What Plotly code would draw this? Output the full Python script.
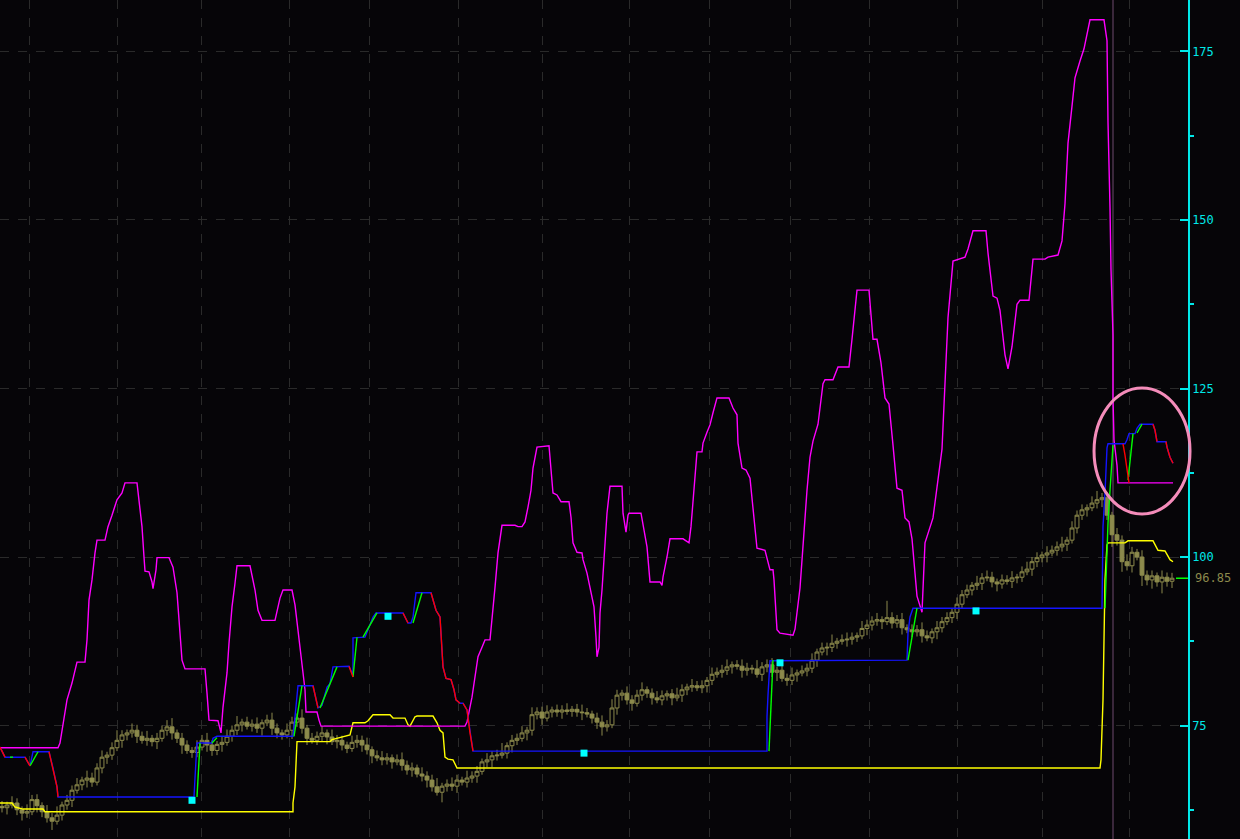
import plotly.graph_objects as go

# ---------------- data ----------------
first_open = 63.0
close = [62.8,63.2,63.5,62.5,62.0,62.2,64.0,63.1,62.2,61.3,
 60.8,61.7,63.2,63.9,65.4,66.2,66.9,67.2,66.6,68.7,
 70.3,70.6,71.7,72.8,73.6,73.9,74.3,73.4,72.8,73.1,
 72.6,73.1,74.3,74.8,73.9,73.1,72.1,71.3,71.0,71.8,
 72.8,72.1,71.3,72.2,72.5,73.4,74.3,75.1,75.5,74.9,
 75.2,74.6,75.4,75.8,74.6,73.9,73.6,74.3,75.5,76.1,
 74.6,73.1,72.8,73.4,73.9,73.3,72.6,72.8,72.1,71.6,
 72.5,72.8,72.1,71.4,70.5,70.2,69.9,70.2,69.6,69.9,
 69.1,68.4,68.7,67.8,67.5,66.9,65.9,65.1,66.0,66.3,
 66.0,66.9,66.6,67.2,67.5,68.2,69.6,69.9,70.5,70.6,
 70.9,72.0,72.8,73.1,73.9,74.3,76.6,77.0,76.1,77.0,
 77.3,77.0,77.3,77.1,77.4,77.0,76.9,76.7,76.1,75.5,
 74.8,75.1,77.6,79.5,79.8,78.8,78.3,79.5,80.3,79.8,
 79.1,78.8,79.4,79.7,79.1,79.5,80.3,80.7,80.9,80.6,
 80.9,81.7,82.6,82.9,83.2,83.7,84.0,83.8,83.2,83.5,
 83.4,82.6,83.7,84.0,82.9,83.2,82.0,81.7,82.5,82.8,
 83.1,83.5,84.7,85.9,86.5,86.6,87.2,87.5,87.7,87.8,
 88.1,88.3,89.4,89.9,90.5,90.7,90.4,91.0,90.2,90.7,
 89.5,89.2,88.9,89.2,88.3,88.0,88.9,89.5,90.4,91.0,
 91.8,93.0,94.4,95.1,95.8,96.1,96.9,97.0,96.3,96.0,
 96.6,96.4,96.9,97.0,97.8,98.2,99.3,99.9,100.3,100.6,
 101.0,101.5,101.9,102.5,104.3,106.2,107.0,107.3,108.0,108.5,
 108.8,106.2,103.3,102.5,99.3,98.7,100.7,100.0,97.3,96.6,
 97.2,96.3,97.0,96.4,96.85]

wick_up = [0.8,0.5,1.0,0.7,0.5,1.1,0.7,0.8,0.5,1.0,
 0.7,1.3,0.5,0.8,0.7,1.0,0.5,1.1,0.8,0.7,
 1.0,0.5,0.8,1.5,0.7,0.5,1.0,0.8,0.7,1.1,
 0.5,0.8,0.7,1.0,1.3,0.5,0.8,0.7,0.5,1.0,
 0.8,1.1,0.7,0.5,0.8,1.0,0.7,1.3,0.5,0.8,
 0.7,1.0,0.5,0.8,1.1,0.7,0.5,1.0,0.8,0.7,
 1.3,0.5,0.8,0.7,1.0,0.5,1.1,0.8,0.7,0.5,
 1.0,0.8,0.7,1.1,0.5,0.8,1.0,0.7,0.5,0.8,
 1.1,0.7,0.8,0.5,1.0,0.7,0.8,1.3,0.5,0.7,
 1.0,0.8,0.5,1.1,0.7,0.8,0.5,1.0,0.7,0.8,
 1.5,0.5,0.8,0.7,1.0,0.5,1.1,0.7,0.8,1.0,
 0.5,0.8,0.7,1.0,0.5,0.8,1.1,0.7,0.5,0.8,
 1.0,0.7,1.3,0.8,0.5,1.0,0.7,0.8,1.1,0.5,
 0.7,1.0,0.8,0.5,0.7,1.1,0.8,0.5,1.0,0.7,
 0.8,0.5,1.0,0.7,0.8,1.1,0.5,0.7,1.0,0.8,
 0.5,1.3,0.7,0.8,1.0,0.5,0.8,0.7,1.1,0.5,
 0.8,0.7,1.0,0.5,0.8,0.7,1.3,0.5,0.8,1.0,
 0.7,0.5,1.1,0.8,0.7,1.0,0.5,2.5,0.8,0.7,
 1.0,0.5,0.8,0.7,1.1,0.8,0.5,1.0,0.7,0.8,
 0.5,1.0,0.7,0.8,0.5,1.1,0.7,1.0,0.8,0.5,
 0.8,0.7,1.0,0.5,0.8,1.1,0.7,0.8,0.5,1.0,
 0.7,0.8,1.1,0.5,1.0,0.7,0.8,0.5,1.0,1.3,
 0.7,0.8,0.5,1.0,0.7,1.1,0.8,0.5,1.0,0.7,
 0.8,0.5,1.0,0.7,0.8]

wick_dn = [0.7,1.0,0.5,0.8,1.1,0.7,0.5,1.0,0.8,0.7,
 1.3,0.5,0.8,0.7,1.0,0.5,0.8,1.1,0.7,0.5,
 0.8,1.0,0.7,0.5,1.1,0.8,0.7,1.0,0.5,0.8,
 0.7,1.1,0.5,0.8,1.0,0.7,1.3,0.5,0.8,0.7,
 0.5,1.0,0.8,0.7,1.1,0.5,0.8,0.7,1.0,0.5,
 0.8,0.7,1.1,0.5,1.0,0.8,0.7,0.5,1.3,0.7,
 0.8,1.0,0.5,0.7,0.8,1.1,0.5,1.0,0.8,0.7,
 0.5,0.8,1.0,0.7,1.1,0.5,0.8,0.7,1.0,0.5,
 0.8,0.7,1.0,0.5,0.8,1.1,0.7,0.5,1.5,0.8,
 0.7,1.0,0.5,0.8,0.7,1.0,0.5,0.8,1.1,0.7,
 0.5,0.8,1.0,0.7,0.5,1.1,0.8,0.7,1.0,0.5,
 0.8,0.7,1.0,0.5,0.8,0.7,1.1,0.5,0.8,1.0,
 1.3,0.7,0.5,1.0,0.8,0.7,1.1,0.5,0.8,0.7,
 1.0,0.5,0.8,0.7,1.1,0.5,1.0,0.8,0.7,0.5,
 0.8,1.0,0.7,0.5,0.8,0.7,1.0,0.5,1.1,0.8,
 0.7,0.5,1.0,0.8,0.7,1.3,0.5,0.8,0.7,1.0,
 0.5,0.8,0.7,1.0,0.5,1.1,0.7,0.8,0.5,1.0,
 0.8,0.7,0.5,1.0,0.8,0.7,1.1,0.5,0.8,0.7,
 1.0,0.5,0.8,0.7,1.0,0.5,0.8,1.1,0.7,0.5,
 0.8,1.0,0.7,0.5,0.8,0.7,1.0,0.5,0.8,1.1,
 0.7,0.5,1.0,0.8,0.7,0.5,1.0,0.8,0.7,1.1,
 0.5,0.8,0.7,1.0,0.5,0.8,0.7,1.0,0.5,0.8,
 1.1,0.7,1.8,0.8,1.5,0.7,1.0,0.5,1.6,0.8,
 1.3,0.7,1.7,0.8,1.0]

magenta_x = [-0.4,11.2,11.6,12.2,13.0,14.0,14.6,15.0,16.6,17.0,17.4,18.0,18.6,19.0,20.6,21.2,22.0,22.6,23.0,24.0,
 24.6,27.0,27.4,28.0,28.4,28.6,29.4,30.0,30.2,30.8,31.0,33.4,34.2,35.0,35.6,36.0,36.6,40.6,41.0,41.4,
 43.2,43.6,43.8,44.2,45.0,45.4,46.0,46.6,47.0,49.6,50.6,51.2,52.0,54.6,55.6,56.2,58.0,58.6,59.2,60.0,
 60.6,60.8,63.0,63.4,63.8,92.6,93.0,94.0,94.6,95.2,96.0,96.6,97.6,98.0,98.6,99.2,100.0,102.6,103.2,104.0,
 104.6,105.2,105.8,106.2,107.0,109.4,109.8,110.2,111.0,111.8,113.4,113.8,114.2,115.0,116.0,116.2,117.0,117.6,118.4,118.8,
 119.0,119.4,119.6,120.0,120.6,121.0,121.6,124.0,124.2,124.8,125.2,125.4,127.8,128.2,129.0,129.6,131.6,132.0,132.2,133.0,
 133.6,136.2,137.4,137.8,138.2,138.6,139.0,140.0,140.2,141.0,141.6,142.2,143.0,145.4,146.2,147.0,147.2,148.0,148.8,149.6,
 150.2,151.0,152.6,153.2,153.6,154.2,154.4,155.0,155.6,158.2,158.6,159.6,160.2,161.0,161.6,162.2,163.2,164.2,164.6,166.2,
 167.2,169.4,170.0,171.0,173.4,174.2,175.0,175.8,176.6,177.4,178.2,179.0,180.0,180.6,181.4,182.0,183.0,184.0,184.6,186.2,
 188.0,188.6,189.2,190.2,192.6,193.2,194.2,196.8,197.2,198.2,199.0,199.6,200.6,201.2,202.0,203.0,203.6,205.4,206.2,208.6,
 209.2,211.2,212.0,212.6,213.2,214.0,214.6,215.6,216.4,217.6,220.4,221.0,221.2,221.6,221.8,222.2,222.2,222.4,223.0,223.2,
 234.2]
magenta_y = [71.7,71.7,72.4,75.4,78.8,81.3,83.2,84.4,84.4,87.7,93.6,96.6,100.6,102.5,102.5,104.5,106.2,107.4,108.5,109.5,
 111.0,111.0,108.5,104.5,100.0,97.9,97.8,96.3,95.3,98.1,99.9,99.9,98.5,94.7,88.7,84.7,83.4,83.4,79.8,75.8,
 75.7,74.3,73.9,77.7,82.8,87.2,92.6,96.1,98.7,98.7,95.1,92.1,90.6,90.6,93.9,95.1,95.1,92.9,89.2,84.3,
 80.3,77.0,77.0,75.8,74.9,74.9,75.5,79.2,82.0,85.2,86.6,87.7,87.7,90.6,95.5,100.6,104.7,104.7,104.5,104.5,
 105.2,107.4,109.9,113.2,116.3,116.5,113.4,109.5,109.2,108.2,108.2,105.9,102.1,100.7,100.6,99.6,97.6,95.5,92.6,88.1,
 85.2,86.6,91.7,95.1,101.5,106.5,110.5,110.5,106.5,103.7,106.2,106.5,106.5,105.0,101.5,96.3,96.3,95.8,97.0,100.0,
 102.7,102.7,102.1,104.5,108.5,111.4,115.6,115.6,116.9,118.5,119.6,121.4,123.6,123.6,122.1,121.1,116.9,113.2,112.9,111.7,
 107.0,101.3,101.0,99.3,98.1,98.1,96.6,89.2,88.7,88.4,89.3,95.4,102.1,109.9,114.8,117.2,119.7,125.7,126.3,126.3,
 128.2,128.2,132.3,139.6,139.6,132.3,132.3,128.8,123.6,122.7,116.6,110.2,109.9,105.8,105.2,102.7,94.2,91.8,102.1,105.8,
 116.0,125.1,135.5,143.9,144.5,145.7,148.4,148.4,145.1,138.7,138.4,136.6,130.0,127.9,131.2,137.5,138.1,138.1,144.2,144.2,
 144.5,144.8,146.9,152.4,161.4,166.9,171.1,173.6,175.4,179.7,179.7,176.6,164.5,151.8,142.7,132.9,123.6,117.4,113.6,111.0,
 111.0]

yellow_x = [-0.4,2.0,2.6,3.2,4.2,8.2,8.6,58.2,58.2,58.6,58.8,59.0,59.0,65.6,66.0,69.6,70.0,70.2,72.6,73.2,
 74.2,77.6,78.2,80.6,81.2,81.6,82.6,83.0,86.2,87.0,87.6,88.2,88.6,89.2,90.2,91.0,219.6,219.8,220.2,220.4,
 220.6,221.0,221.2,224.6,225.2,230.2,231.2,232.6,233.6,234.2]
yellow_y = [63.5,63.5,62.9,62.8,62.6,62.6,62.2,62.2,63.5,65.9,68.8,71.4,72.6,72.6,72.9,73.6,74.8,75.4,75.4,75.7,
 76.6,76.6,76.1,76.1,75.1,74.9,76.3,76.4,76.4,75.4,74.3,73.9,70.3,70.0,69.9,68.7,68.7,69.9,78.8,87.7,
 96.6,101.8,102.1,102.1,102.4,102.4,101.0,100.9,99.6,99.3]

blue_x = [-0.4,0.6,4.6,5.6,6.2,9.4,10.2,11.0,11.2,38.4,38.6,39.0,42.0,42.2,43.0,58.2,58.6,59.0,59.2,62.2,
 63.2,64.0,65.0,65.6,66.2,69.4,70.2,70.2,72.6,73.2,74.2,74.8,80.2,81.2,81.8,82.2,82.6,82.8,85.8,86.8,
 87.6,87.8,88.2,88.8,89.8,90.4,90.8,91.6,92.2,93.0,93.6,94.2,153.0,153.0,153.2,153.4,153.6,181.0,181.2,181.6,
 182.2,220.0,220.2,220.6,221.0,221.2,224.6,225.0,225.4,226.6,227.0,227.6,230.2,230.6,231.0,232.8,233.0,233.6,234.2]
blue_y = [71.8,70.3,70.3,69.0,71.1,71.1,68.7,65.9,64.4,64.4,67.2,72.4,72.4,73.1,73.4,73.4,76.3,80.0,80.9,80.9,
 77.6,78.0,80.7,81.2,83.7,83.8,82.5,88.0,88.1,89.2,91.1,91.7,91.7,90.2,90.2,91.1,93.6,94.7,94.7,92.1,
 91.1,88.0,83.7,82.0,81.8,80.3,78.8,78.3,78.3,77.3,73.9,71.2,71.2,76.3,79.5,82.9,84.6,84.7,88.7,91.1,
 92.4,92.4,104.5,109.5,116.2,116.8,116.8,117.4,118.3,118.3,119.1,119.7,119.7,118.8,117.1,117.1,116.3,114.8,113.9]

green_x = [1.6,2.2,None,5.6,7.2,None,39.0,39.6,None,42.0,43.0,None,58.4,60.0,None,63.6,67.0,None,70.2,71.0,None,
 72.2,75.0,None,82.2,84.0,None,153.4,154.2,None,181.2,183.0,None,220.6,221.2,221.6,222.2,None,225.2,226.2,None,227.0,228.0]
green_y = [70.3,70.3,None,69.0,71.1,None,64.4,72.4,None,72.4,73.2,None,73.4,80.9,None,77.6,83.7,None,82.2,88.1,None,
 88.1,91.7,None,90.2,94.7,None,71.2,84.7,None,84.7,92.4,None,92.4,105.0,109.9,116.6,None,111.4,118.3,None,118.4,119.7]

red_x = [-0.4,0.6,None,4.6,5.6,None,9.4,10.2,11.0,11.2,None,62.2,63.2,None,69.4,70.2,None,80.2,81.2,None,
 85.8,86.8,87.6,87.8,88.2,88.8,89.8,90.4,90.8,91.6,None,92.2,93.0,93.6,94.2,None,224.2,224.6,225.4,None,
 230.2,230.6,231.0,None,232.8,233.0,233.6,234.2]
red_y = [71.8,70.3,None,70.3,69.0,None,71.1,68.7,65.9,64.4,None,80.9,77.6,None,83.8,82.2,None,91.7,90.2,None,
 94.7,92.1,91.1,88.0,83.7,82.0,81.8,80.3,78.8,78.3,None,78.3,77.3,73.9,71.2,None,116.8,115.1,111.0,None,
 119.7,118.8,117.1,None,117.1,116.3,114.8,113.9]

signal_x = [38.0, 77.2, 116.4, 155.6, 194.8]
signal_y = [63.9, 91.2, 70.9, 84.3, 92.0]

grid_x = [5.4, 23.0, 39.8, 57.4, 73.4, 91.2, 108.0, 125.4, 141.4, 157.6, 173.4, 191.0, 208.0, 225.4]
y_ticks = [75, 100, 125, 150, 175]
y_minor = [62.5, 87.5, 112.5, 137.5, 162.5]
cursor_bar = 222.2
last_price = 96.85

# ---------------- styles ----------------
BG = "#060508"
OLIVE = "#8c8a4c"
CYAN = "#00e8e8"
GRID = "#2a2a2a"

bars = list(range(len(close)))
open_ = [first_open] + close[:-1]
high = [max(o, c) + w for o, c, w in zip(open_, close, wick_up)]
low = [min(o, c) - w for o, c, w in zip(open_, close, wick_dn)]

fig = go.Figure()
fig.add_trace(go.Candlestick(
    x=bars, open=open_, high=high, low=low, close=close,
    increasing=dict(line=dict(color=OLIVE, width=1), fillcolor=BG),
    decreasing=dict(line=dict(color=OLIVE, width=1), fillcolor=OLIVE),
    whiskerwidth=0, showlegend=False, hoverinfo="skip"))

def line(x, y, color, w=1.4):
    fig.add_trace(go.Scatter(x=x, y=y, mode="lines", line=dict(color=color, width=w),
                             connectgaps=False, showlegend=False, hoverinfo="skip"))

line(yellow_x, yellow_y, "#ffff00")
line(magenta_x, magenta_y, "#ff00ff")
line(blue_x, blue_y, "#1414ff")
line(green_x, green_y, "#00ff00")
line(red_x, red_y, "#ff0000")

fig.add_trace(go.Scatter(x=signal_x, y=signal_y, mode="markers",
                         marker=dict(symbol="square", size=7, color="#00ffff"),
                         showlegend=False, hoverinfo="skip"))

shapes = [
    dict(type="line", xref="x", yref="paper", x0=cursor_bar, x1=cursor_bar, y0=0, y1=1,
         line=dict(color="#6e4a6e", width=1), layer="below"),
    dict(type="circle", xref="paper", yref="paper", x0=0.9209, x1=1.0017, y0=0.3874, y1=0.5375,
         line=dict(color="#f48cba", width=3)),
    dict(type="line", xref="paper", yref="y", x0=0.9899, x1=1.0, y0=last_price, y1=last_price,
         line=dict(color="#00ff00", width=1.5)),
]

fig.update_layout(
    width=1240, height=839,
    margin=dict(l=0, r=52, t=0, b=0),
    paper_bgcolor=BG, plot_bgcolor=BG,
    showlegend=False,
    boxgap=0.22, boxgroupgap=0,
    shapes=shapes,
    annotations=[dict(x=1.0, xref="paper", y=last_price, yref="y", text=f"{last_price:.2f}",
                      xanchor="left", yanchor="middle", xshift=5, showarrow=False,
                      font=dict(family="DejaVu Sans Mono", size=12, color=OLIVE))],
    xaxis=dict(range=[-0.4, 237.2], showticklabels=False, rangeslider=dict(visible=False),
               tickvals=grid_x, showgrid=True, gridcolor=GRID, griddash="dash", gridwidth=1,
               zeroline=False, showline=False, ticks=""),
    yaxis=dict(side="right", range=[58.16, 182.64], tickvals=y_ticks,
               ticks="inside", ticklen=8, tickcolor=CYAN, tickwidth=1.5,
               showline=True, linecolor=CYAN, linewidth=1.5,
               tickfont=dict(family="DejaVu Sans Mono", size=12, color=CYAN),
               showgrid=True, gridcolor=GRID, griddash="dash", zeroline=False,
               minor=dict(tickvals=y_minor, ticklen=4, tickcolor=CYAN, showgrid=False)),
)

fig.write_html("out.html", config={"displayModeBar": False},
               post_script="document.body.style.margin='0px';document.body.style.overflow='hidden';")
